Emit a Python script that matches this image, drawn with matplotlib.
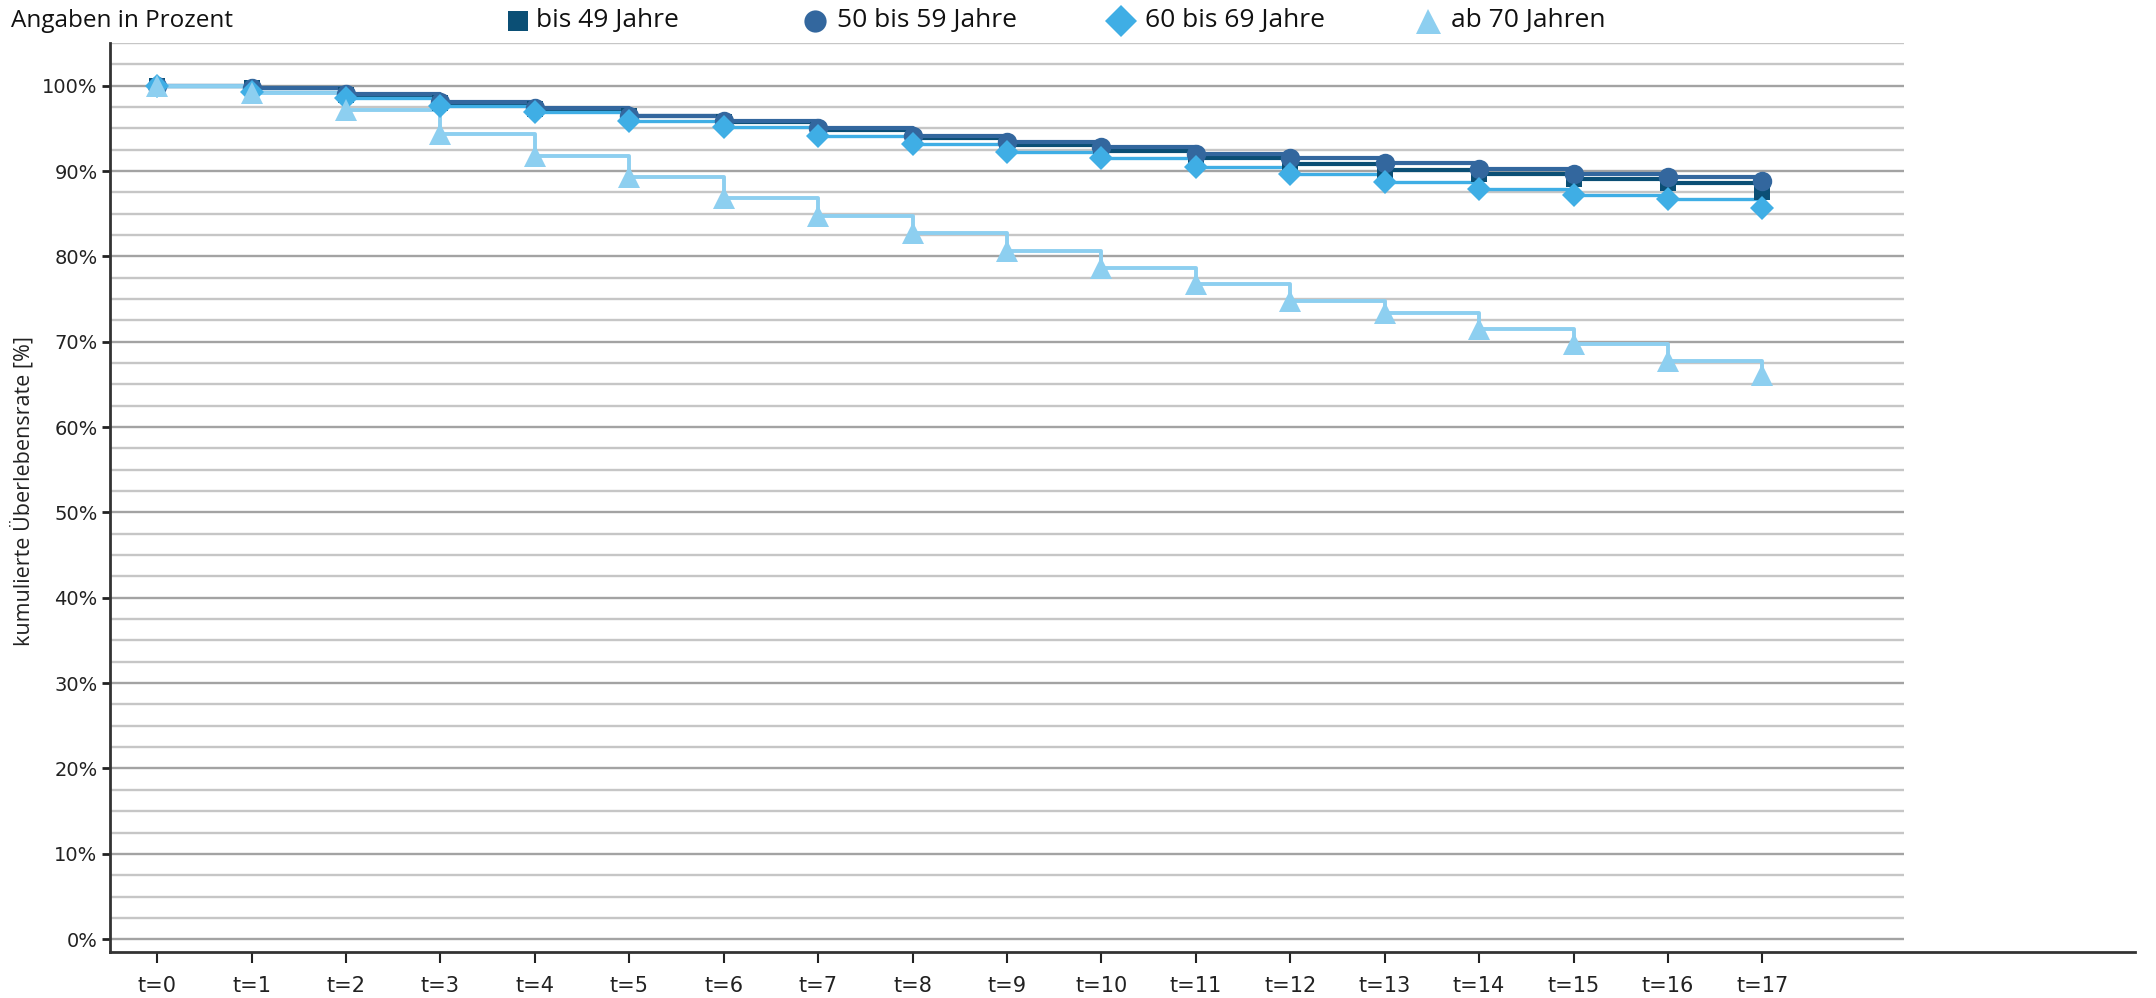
import matplotlib.pyplot as plt
import numpy as np
from matplotlib.lines import Line2D

plt.rcParams['font.family'] = ['Open Sans', 'DejaVu Sans']

# survival curves, values in percent for t=0 .. t=17
zeitpunkte = ["t=%d" % i for i in range(18)]
bis_49 = [100, 99.7, 98.9, 98.0, 97.3, 96.4, 95.7, 94.8, 93.9, 93.1,
          92.4, 91.5, 90.8, 90.1, 89.7, 89.1, 88.6, 87.6]
j50_59 = [100, 99.7, 99.0, 98.1, 97.4, 96.5, 95.9, 95.0, 94.1, 93.4,
          92.8, 92.0, 91.5, 90.9, 90.2, 89.7, 89.3, 88.8]
j60_69 = [100, 99.3, 98.5, 97.6, 96.9, 95.9, 95.1, 94.1, 93.2, 92.2,
          91.5, 90.5, 89.6, 88.7, 87.9, 87.2, 86.7, 85.7]
ab_70 = [100, 99.2, 97.1, 94.3, 91.8, 89.3, 86.8, 84.7, 82.7, 80.6,
         78.6, 76.8, 74.8, 73.4, 71.5, 69.7, 67.7, 66.1]

namen = ["bis 49 Jahre", "50 bis 59 Jahre", "60 bis 69 Jahre", "ab 70 Jahren"]
farben = ["#0B4F75", "#33679E", "#3FAEE5", "#8DCFF0"]
marker = ["s", "o", "D", "^"]
msizes = [12, 14, 12, 16]
leg_ms = [15, 16, 16, 18]
lws = [3.0, 3.0, 2.4, 2.8]

fig = plt.figure(figsize=(21.56, 9.98), dpi=100)
W, H = 2156, 998
ax = fig.add_axes([110 / W, 1 - 952 / H, (1904 - 110) / W, (952 - 43) / H])

x = np.arange(len(zeitpunkte))
for werte, farbe, m, ms, lw in zip([bis_49, j50_59, j60_69, ab_70], farben, marker, msizes, lws):
    ax.plot(x, werte, drawstyle="steps-post", color=farbe, lw=lw, zorder=3)
    ax.plot(x, werte, linestyle="none", marker=m, ms=ms, color=farbe,
            markeredgewidth=0, zorder=4)

ax.set_xlim(-0.5, 18.5)
ax.set_ylim(-1.5, 105)

ax.set_yticks(np.arange(0, 101, 10))
ax.set_yticklabels(["%d%%" % v for v in range(0, 101, 10)])
minor = [v for v in np.arange(0, 105.1, 2.5) if v % 10 != 0]
ax.set_yticks(minor, minor=True)
ax.grid(axis="y", which="major", color="#A3A3A3", lw=1.7, zorder=1)
ax.grid(axis="y", which="minor", color="#C6C6C6", lw=1.7, zorder=1)

ax.set_xticks(x)
ax.set_xticklabels(zeitpunkte)
ax.tick_params(axis="x", direction="out", length=8, width=1.5, color="#222222",
               labelsize=15, labelcolor="#222222", pad=9, labelfontfamily="DejaVu Sans")
ax.tick_params(axis="y", which="major", direction="out", length=6, width=2,
               color="#222222", labelsize=14, labelcolor="#222222", pad=3,
               labelfontfamily="DejaVu Sans")
ax.tick_params(axis="y", which="minor", length=0)

for s in ["top", "right", "bottom"]:
    ax.spines[s].set_visible(False)
ax.spines["left"].set_color("#333333")
ax.spines["left"].set_linewidth(2)
ax.add_line(Line2D([0, (2135 - 110) / (1904 - 110)], [0, 0], transform=ax.transAxes,
                   color="#333333", lw=2, clip_on=False, zorder=5))

ax.set_ylabel("kumulierte Überlebensrate [%]", fontsize=15.5, color="#222222")
ax.yaxis.set_label_coords(-0.042, 0.507)

fig.text(11 / W, 1 - 21 / H, "Angaben in Prozent", fontsize=17.5, va="center", ha="left",
         color="#111111")

# legend along the top
leg_m = [518, 815, 1121, 1428]
leg_t = [536, 837, 1145, 1451]
for name, farbe, m, ms, mx, tx in zip(namen, farben, marker, leg_ms, leg_m, leg_t):
    fig.add_artist(Line2D([mx / W], [1 - 21 / H], marker=m, ms=ms, color=farbe,
                          markeredgewidth=0, linestyle="none"))
    fig.text(tx / W, 1 - 21 / H, name, fontsize=19, va="center", ha="left", color="#111111")

fig.savefig("out.png", dpi=100)
